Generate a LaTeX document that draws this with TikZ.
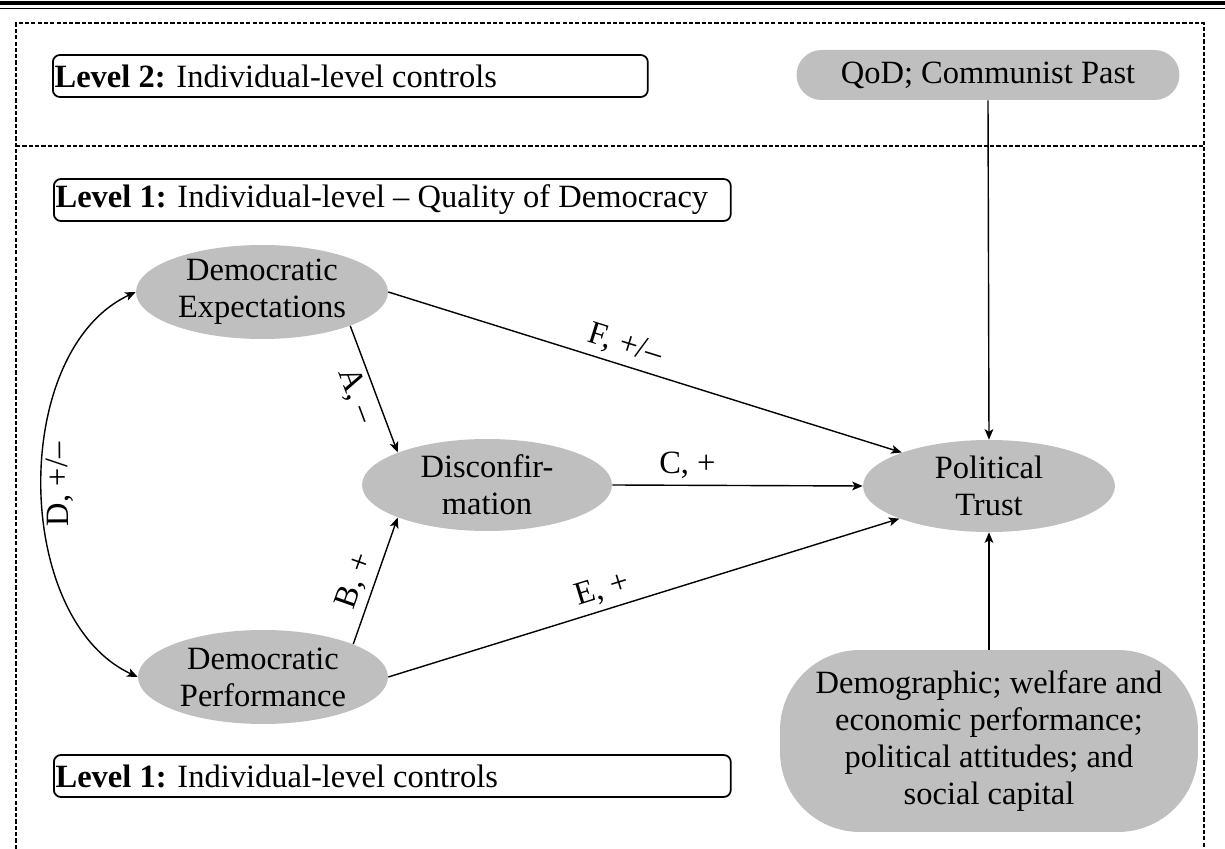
\documentclass[tikz,border=0pt]{standalone}
\usepackage{fontspec}
\setmainfont{Liberation Serif}
\usepackage{tikz}
\usetikzlibrary{shapes.geometric,arrows.meta}
\definecolor{ovalgrey}{RGB}{191,191,191}

\begin{document}
\begin{tikzpicture}[x=0.02cm, y=0.02cm,
    font=\fontsize{18.5}{21}\selectfont,
    oval/.style={ellipse, fill=ovalgrey, inner sep=0pt, align=center},
    levelbox/.style={draw, rounded corners=4pt, line width=1pt, anchor=west, align=flush left, inner xsep=1pt, minimum height=0.84cm},
    effect/.style={-{Stealth[length=6pt,width=5pt,inset=1.5pt]}, line width=0.8pt},
    divider/.style={dash pattern=on 2.4pt off 1.2pt, line width=0.7pt}]
  \useasboundingbox (0,0) rectangle (1225,849);

  % Header rules
  \draw[line width=2pt] (0,846) -- (1225,846);
  \draw[line width=0.8pt] (0,840.5) -- (1225,840.5);

  % Level frames
  \draw[divider] (16,0) -- (16,826) -- (1204,826) -- (1204,0);
  \draw[divider] (16,703) -- (1204,703);

  % Level labels
  \node[levelbox, text width=11.83cm] (lvltwo) at (52,773) {\textbf{Level 2:} Individual-level controls};
  \node[levelbox, text width=13.47cm] (lvlone) at (53,649) {\textbf{Level 1:} Individual-level -- Quality of Democracy};
  \node[levelbox, text width=13.47cm] (lvlctrl) at (53,73) {\textbf{Level 1:} Individual-level controls};

  % Latent variables
  \node[oval, minimum width=5.04cm, minimum height=1.88cm] (exp) at (262,557) {Democratic\\Expectations};
  \node[oval, minimum width=5cm, minimum height=1.84cm] (disc) at (487,364) {Disconfir-\\mation};
  \node[oval, minimum width=5cm, minimum height=1.88cm] (perf) at (263,172) {Democratic\\Performance};
  \node[oval, minimum width=5.04cm, minimum height=1.84cm] (trust) at (989,363) {Political\\Trust};

  % Context and controls
  \node[fill=ovalgrey, rounded corners=0.5cm, minimum width=7.66cm, minimum height=1cm] (qod) at (988,774) {QoD; Communist Past};
  \node[fill=ovalgrey, rounded corners=1.6cm, minimum width=8.36cm, minimum height=3.64cm, align=center] (demog) at (989,108)
    {Demographic; welfare and\\economic performance;\\political attitudes; and\\social capital};

  % Paths
  \draw[effect] (exp.-21) -- node[sloped, below, inner sep=3pt] {A, --} (disc.160);
  \draw[effect] (perf.20) -- node[sloped, above, pos=0.45, inner sep=3pt] {B, +} (disc.200);
  \draw[effect] (disc.east) -- node[above, pos=0.3] {C, +} (trust.west);
  \draw[effect] (exp.east) -- node[sloped, above, pos=0.45] {F, +/--} (trust.159);
  \draw[effect] (perf.east) -- node[sloped, above, pos=0.43] {E, +} (trust.200);
  \draw[line width=0.8pt, {Stealth[length=6pt,width=5pt,inset=1.5pt]}-{Stealth[length=6pt,width=5pt,inset=1.5pt]}]
    (perf.west) to[out=155, in=205, looseness=0.92] node[sloped, allow upside down, below, inner sep=2pt] {D, +/--} (exp.west);

  % Context arrows
  \draw[effect] (qod.south) -- (trust.north);
  \draw[effect] (demog.north) -- (trust.south);
\end{tikzpicture}
\end{document}
